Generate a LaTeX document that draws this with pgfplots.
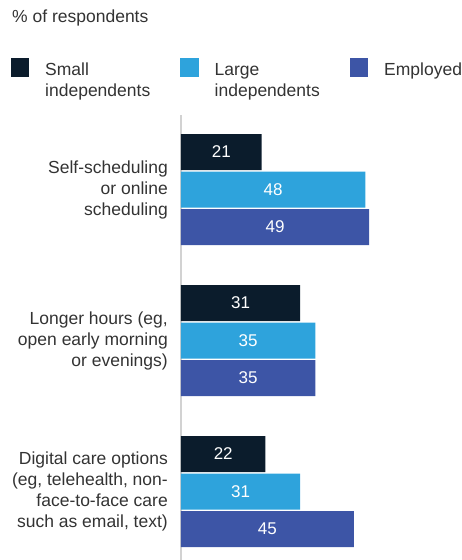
\documentclass[border=0pt]{standalone}
\usepackage{pgfplots}
\pgfplotsset{compat=1.18}
\usepackage{fontspec}
\setmainfont{Liberation Sans}
\definecolor{cdark}{HTML}{0B1C2C}
\definecolor{clight}{HTML}{2EA3DC}
\definecolor{cemp}{HTML}{3D55A6}
\definecolor{ctext}{HTML}{333333}
\definecolor{caxis}{HTML}{D2D2D2}
\newcommand{\lf}{\fontsize{17.5}{21}\selectfont}
\begin{document}
\begin{tikzpicture}
\path[use as bounding box] (-181pt,115pt) rectangle (281pt,-445pt);
\node[anchor=base west, text=ctext, font=\lf, inner sep=0] at (-169pt,93pt) {\% of respondents};
\begin{axis}[
  at={(0pt,0pt)}, anchor=north west,
  scale only axis,
  x=3.84pt, y=151pt,
  xmin=0, xmax=60,
  ymin=-0.49338, ymax=2.45364,
  y dir=reverse,
  xbar, bar width=36pt, bar shift=0pt,
  axis x line=none, axis y line=left,
  axis line style={-, draw=caxis, line width=1.3pt},
  ytick={0,1,2},
  yticklabels={{Self-scheduling\\or online\\scheduling},{Longer hours (eg,\\open early morning\\or evenings)},{Digital care options\\(eg, telehealth, non-\\face-to-face care\\such as email, text)}},
  yticklabel style={align=right, font=\lf, text=ctext, inner sep=0pt, xshift=-13pt},
  major tick length=0pt,
  nodes near coords,
  /pgf/number format/assume math mode=true,
  visualization depends on=rawx\as\rawx,
  every node near coord/.append style={anchor=center, text=white, font=\fontsize{17}{20}\selectfont, shift={(axis direction cs:-\rawx/2,0)}},
  legend columns=3,
  legend style={at={(0,1)}, anchor=north west, xshift=-170pt, yshift=56.7pt, draw=none, fill=none, inner sep=0pt, outer sep=0pt,
    cells={anchor=base west}, nodes={inner sep=0pt, text=ctext, font=\lf},
    /tikz/every odd column/.append style={column sep=15.7pt},
    /tikz/every even column/.append style={column sep=0pt}},
  legend image code/.code={\fill[#1] (0pt,-1.5pt) rectangle (18.5pt,17pt);},
]
\addplot[fill=cdark, draw=none] coordinates {(21,-0.2483) (31,0.7517) (22,1.7517)};
\addlegendentry{\parbox[t]{135.3pt}{Small\\independents}}
\addplot[fill=clight, draw=none] coordinates {(48,0) (35,1) (31,2)};
\addlegendentry{\parbox[t]{135.3pt}{Large\\independents}}
\addplot[fill=cemp, draw=none] coordinates {(49,0.2483) (35,1.2483) (45,2.2483)};
\addlegendentry{\parbox[t]{80pt}{Employed}}
\end{axis}
\end{tikzpicture}
\end{document}
